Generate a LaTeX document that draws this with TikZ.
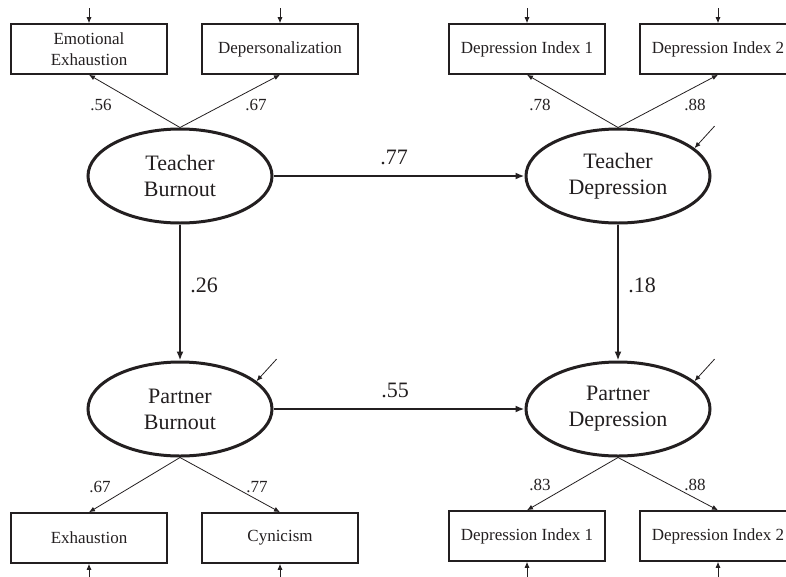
\documentclass[tikz,border=0pt]{standalone}
\usepackage{fontspec}
\setmainfont{Liberation Serif}
\usepackage{xcolor}
\usetikzlibrary{shapes.geometric,arrows.meta}
\definecolor{ink}{HTML}{231F20}

\begin{document}
\begin{tikzpicture}[x=1pt,y=-1pt,color=ink]
		\useasboundingbox (0,0) rectangle (786,576);
		\tikzstyle{latent}=[draw,ellipse,line width=3pt,minimum width=184pt,minimum height=94pt,inner sep=0pt,align=center,font=\fontsize{22}{26}\selectfont]
		\tikzstyle{manifest}=[draw,rectangle,line width=1.6pt,minimum width=156pt,minimum height=50pt,inner sep=0pt,align=center,font=\fontsize{17}{21}\selectfont]
		\tikzstyle{coef}=[inner sep=0pt,font=\fontsize{22}{26}\selectfont]
		\tikzstyle{loading}=[inner sep=0pt,font=\fontsize{17}{21}\selectfont]
		\tikzstyle{regress}=[line width=2.4pt,-{Latex[length=9pt,width=7pt]}]
		% latent variables
		\node[latent] (tb) at (180,176) {Teacher\\Burnout};
		\node[latent] (td) at (618,176) {Teacher\\Depression};
		\node[latent] (pb) at (180,409) {Partner\\Burnout};
		\node[latent] (pd) at (618,409) {Partner\\Depression};
		% indicators
		\node[manifest] (ee) at (89,49) {Emotional\\Exhaustion};
		\node[manifest] (dp) at (280,49) {Depersonalization};
		\node[manifest] (tda) at (527,49) {Depression Index 1};
		\node[manifest] (tdb) at (718,49) {Depression Index 2};
		\node[manifest] (ex) at (89,538) {Exhaustion};
		\node[manifest] (cy) at (280,538) {Cynicism};
		\node[manifest] (pda) at (527,536) {Depression Index 1};
		\node[manifest] (pdb) at (718,536) {Depression Index 2};
		% error terms
		\coordinate (eee) at (89,8);
		\coordinate (edp) at (280,8);
		\coordinate (etda) at (527,8);
		\coordinate (etdb) at (718,8);
		\coordinate (eex) at (89,580);
		\coordinate (ecy) at (280,580);
		\coordinate (epda) at (527,580);
		\coordinate (epdb) at (718,580);
		\coordinate (etd) at ([shift={(20pt,22pt)}]td.20);
		\coordinate (epb) at ([shift={(20pt,22pt)}]pb.20);
		\coordinate (epd) at ([shift={(20pt,22pt)}]pd.20);
		% structural paths
		\draw[regress] (tb) -- (td);
		\draw[regress] (pb) -- (pd);
		\draw[regress] (tb) -- (pb);
		\draw[regress] (td) -- (pd);
		\node[coef] (c1) at (394,157) {.77};
		\node[coef] (c2) at (395,390) {.55};
		\node[coef] (c3) at (204,285) {.26};
		\node[coef] (c4) at (642,285) {.18};
		% measurement paths
		\tikzstyle{every edge}+=[line width=0.8pt,-{Latex[length=6pt,width=5pt]}]
		\path (tb.north) edge (ee.south) edge (dp.south)
		(td.north) edge (tda.south) edge (tdb.south)
		(pb.south) edge (ex.north) edge (cy.north)
		(pd.south) edge (pda.north) edge (pdb.north);
		\node[loading] (l1) at (101,105) {.56};
		\node[loading] (l2) at (256,105) {.67};
		\node[loading] (l3) at (540,105) {.78};
		\node[loading] (l4) at (695,105) {.88};
		\node[loading] (l5) at (100,487) {.67};
		\node[loading] (l6) at (257,487) {.77};
		\node[loading] (l7) at (540,485) {.83};
		\node[loading] (l8) at (695,485) {.88};
		% residuals
		\path (eee) edge (ee) (edp) edge (dp) (etda) edge (tda) (etdb) edge (tdb)
		(eex) edge (ex) (ecy) edge (cy) (epda) edge (pda) (epdb) edge (pdb)
		(etd) edge (td.20) (epb) edge (pb.20) (epd) edge (pd.20);
\end{tikzpicture}
\end{document}
